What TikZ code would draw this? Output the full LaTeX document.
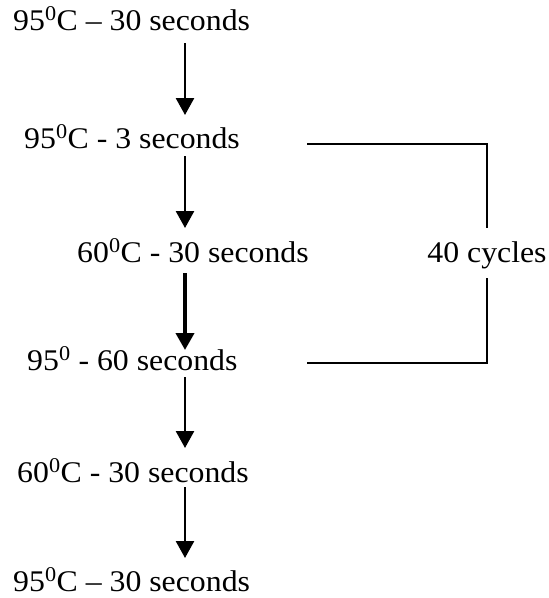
\documentclass[tikz,border=0pt]{standalone}
\usepackage{fontspec}
\setmainfont{Liberation Serif}[FakeStretch=1.06]
\usetikzlibrary{arrows.meta}
\begin{document}
\begin{tikzpicture}[x=1pt,y=-1pt,
  lbl/.style={inner sep=0pt,anchor=base west,font=\fontsize{30}{34}\selectfont},
  arr/.style={line width=2.6pt,-{Triangle[width=18pt,length=17pt]}},
  arrthick/.style={arr,line width=3.8pt},
  br/.style={line width=1.3pt}]
\useasboundingbox (0,0) rectangle (549,598);
\node[lbl] (n1) at (13,30) {95\textsuperscript{0}C – 30 seconds};
\node[lbl] (n2) at (24,148) {95\textsuperscript{0}C - 3 seconds};
\node[lbl] (n3) at (77,262) {60\textsuperscript{0}C - 30 seconds};
\node[lbl] (n4) at (27,370) {95\textsuperscript{0} - 60 seconds};
\node[lbl] (n5) at (17,482) {60\textsuperscript{0}C - 30 seconds};
\node[lbl] (n6) at (13,591) {95\textsuperscript{0}C – 30 seconds};
\node[lbl,anchor=base] (cyc) at (487,262) {40 cycles};
\coordinate (ax) at (185,0);
\coordinate (bl) at (307,0);
\draw[arr] ([yshift=-13pt]n1.base -| ax) -- ([yshift=33pt]n2.base -| ax);
\draw[arr] ([yshift=-8pt]n2.base -| ax) -- ([yshift=34pt]n3.base -| ax);
\draw[arrthick] ([yshift=-11pt]n3.base -| ax) -- ([yshift=20pt]n4.base -| ax);
\draw[arr] ([yshift=-7pt]n4.base -| ax) -- ([yshift=34pt]n5.base -| ax);
\draw[arr] ([yshift=-5pt]n5.base -| ax) -- ([yshift=33pt]n6.base -| ax);
\draw[br] ([yshift=4pt]n2.base -| bl) -| ([yshift=34pt]cyc.base);
\draw[br] ([yshift=-16pt]cyc.base) |- ([yshift=7pt]n4.base -| bl);
\end{tikzpicture}
\end{document}
